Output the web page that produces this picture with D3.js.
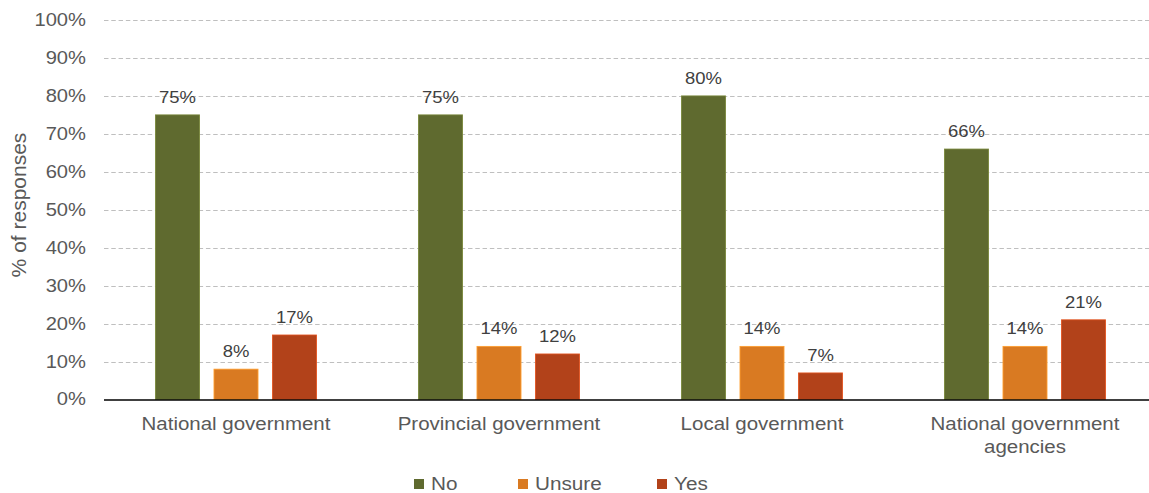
<!DOCTYPE html>
<html>
<head>
<meta charset="utf-8">
<script src="https://cdn.jsdelivr.net/npm/d3@7"></script>
<style>
  html, body { margin: 0; padding: 0; background: #fff; }
  svg { display: block; font-family: "Liberation Sans", Arial, sans-serif; }
</style>
</head>
<body>
<svg width="1149" height="493"></svg>
<script>
const categories = ["National government", "Provincial government", "Local government", "National government agencies"];
const series = ["No", "Unsure", "Yes"];
const noValues = [75, 75, 80, 66];
const unsureValues = [8, 14, 14, 14];
const yesValues = [17, 12, 7, 21];
const yTicks = [0, 10, 20, 30, 40, 50, 60, 70, 80, 90, 100];
const colors = ["#5f6a2f", "#d97a22", "#b2421a"];

// the source picture is stretched sideways, so draw narrower and stretch
const K = 1.12;
const W = 1149 / K, H = 493;

const svg = d3.select("svg")
  .attr("viewBox", `0 0 ${W} ${H}`)
  .attr("preserveAspectRatio", "none");

const rows = categories.map((c, i) => ({
  name: c,
  values: [noValues[i], unsureValues[i], yesValues[i]]
}));

const x0 = d3.scaleBand()
  .domain(categories)
  .range([104.5 / K, 1156.5 / K]);

const x1 = d3.scaleBand()
  .domain(series)
  .range([0, x0.bandwidth()])
  .paddingInner(0.248)
  .paddingOuter(0.872);

const y = d3.scaleLinear().domain([0, 100]).range([399.5, 20]);

// grid lines
svg.append("g")
  .selectAll("line")
  .data(yTicks.filter((d) => d > 0))
  .enter()
  .append("line")
  .attr("x1", 104 / K)
  .attr("x2", W)
  .attr("y1", (d) => Math.round(y(d)) + 0.5)
  .attr("y2", (d) => Math.round(y(d)) + 0.5)
  .attr("stroke", "#bfbfbf")
  .attr("stroke-width", 1)
  .attr("stroke-dasharray", "4,2.5");

// y tick labels
svg.append("g")
  .selectAll("text")
  .data(yTicks)
  .enter()
  .append("text")
  .attr("x", 86 / K)
  .attr("y", (d) => y(d) + 6)
  .attr("text-anchor", "end")
  .attr("fill", "#595959")
  .style("font-size", "18px")
  .text((d) => d + "%");

// y axis title (undo the sideways stretch for the rotated text)
svg.append("text")
  .attr("transform", `translate(${26 / K},205) scale(${1 / K},1) rotate(-90)`)
  .attr("text-anchor", "middle")
  .attr("fill", "#595959")
  .style("font-size", "21px")
  .text("% of responses");

// bars
const groups = svg.append("g")
  .selectAll("g")
  .data(rows)
  .enter()
  .append("g")
  .attr("transform", (d) => `translate(${x0(d.name)},0)`);

groups.selectAll("rect")
  .data((d) => d.values.map((v, i) => ({ key: series[i], value: v, i })))
  .enter()
  .append("rect")
  .attr("x", (d) => x1(d.key))
  .attr("width", x1.bandwidth())
  .attr("y", (d) => y(d.value))
  .attr("height", (d) => y(0) - y(d.value))
  .attr("fill", (d) => colors[d.i])
  .attr("stroke", (d) => d3.color(colors[d.i]).brighter(0.7))
  .attr("stroke-width", 0.8);

groups.selectAll("text")
  .data((d) => d.values.map((v, i) => ({ key: series[i], value: v })))
  .enter()
  .append("text")
  .attr("x", (d) => x1(d.key) + x1.bandwidth() / 2)
  .attr("y", (d) => y(d.value) - 12)
  .attr("text-anchor", "middle")
  .attr("fill", "#404040")
  .style("font-size", "16.5px")
  .text((d) => d.value + "%");

// baseline
svg.append("line")
  .attr("x1", 104 / K)
  .attr("x2", W)
  .attr("y1", y(0) + 0.5)
  .attr("y2", y(0) + 0.5)
  .attr("stroke", "#000")
  .attr("stroke-width", 1.5);

// category labels, wrapped like the original
const catLines = [["National government"], ["Provincial government"], ["Local government"], ["National government", "agencies"]];
svg.append("g")
  .selectAll("text")
  .data(categories)
  .enter()
  .append("text")
  .attr("x", (d) => x0(d) + x0.bandwidth() / 2)
  .attr("y", 430)
  .attr("text-anchor", "middle")
  .attr("fill", "#595959")
  .style("font-size", "18.3px")
  .each(function (d, i) {
    d3.select(this)
      .selectAll("tspan")
      .data(catLines[i])
      .enter()
      .append("tspan")
      .attr("x", x0(d) + x0.bandwidth() / 2)
      .attr("dy", (t, j) => (j === 0 ? 0 : 23))
      .text((t) => t);
  });

// legend
const legendX = [414, 518, 657];
const legend = svg.append("g")
  .selectAll("g")
  .data(series)
  .enter()
  .append("g")
  .attr("transform", (d, i) => `translate(${legendX[i] / K},479)`);

legend.append("rect")
  .attr("width", 10 / K)
  .attr("height", 10)
  .attr("fill", (d, i) => colors[i]);

legend.append("text")
  .attr("x", 17 / K)
  .attr("y", 11)
  .attr("fill", "#595959")
  .style("font-size", "18.5px")
  .text((d) => d);
</script>
</body>
</html>
